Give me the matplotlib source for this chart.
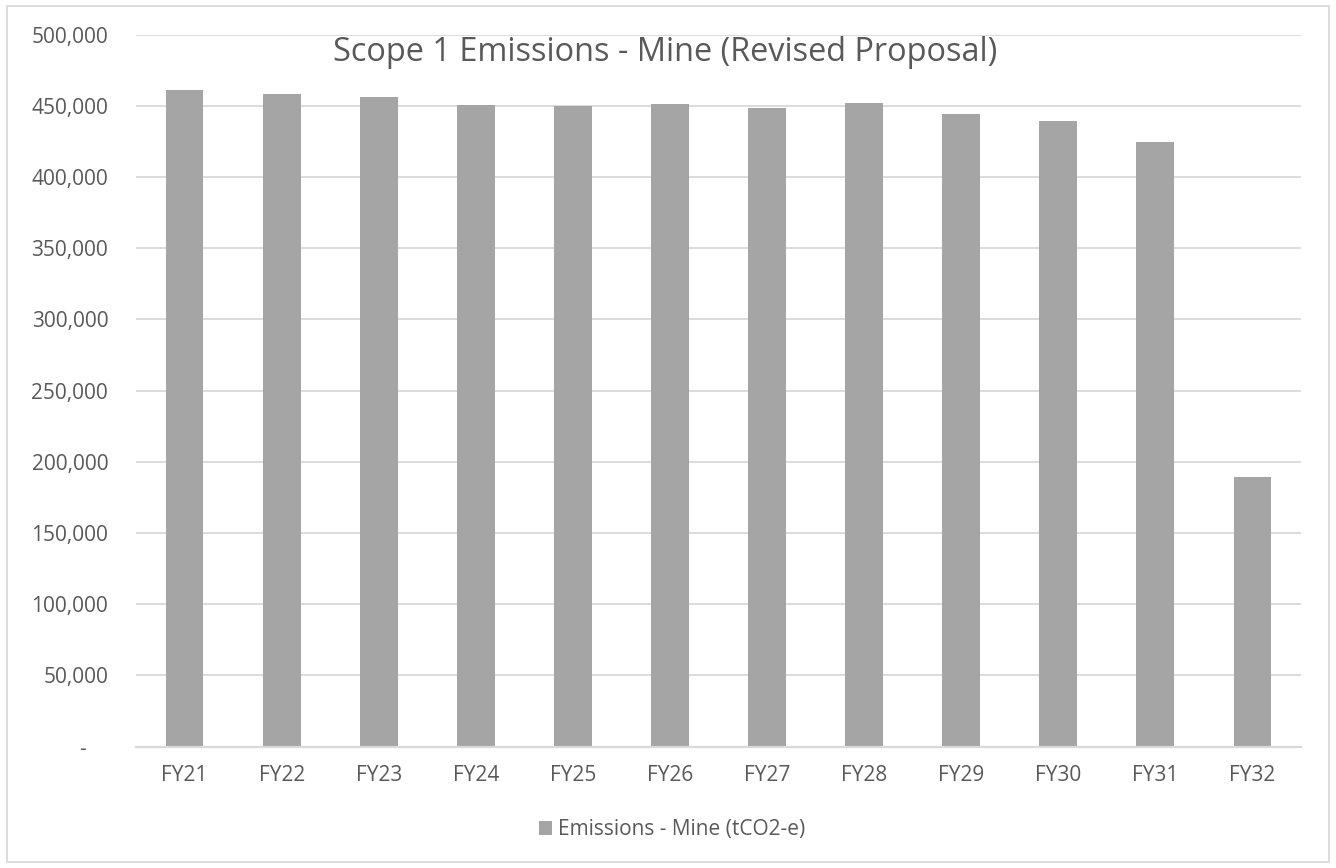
import matplotlib
matplotlib.use("Agg")
import matplotlib.pyplot as plt
from matplotlib.patches import Rectangle
from matplotlib.ticker import FuncFormatter, MultipleLocator

years = ['FY21', 'FY22', 'FY23', 'FY24', 'FY25', 'FY26',
         'FY27', 'FY28', 'FY29', 'FY30', 'FY31', 'FY32']
emissions = [461200, 458400, 456000, 450400, 449900, 451300,
             448500, 452000, 444100, 439600, 424700, 189400]

plt.rcParams['font.family'] = ['Open Sans', 'DejaVu Sans']
text_col = '#595959'
grid_col = '#D9D9D9'
bar_col = '#A5A5A5'

fig = plt.figure(figsize=(13.36, 8.68), dpi=100)
ax = fig.add_axes([0.1018, 0.1398, 0.872, 0.8202])

x = range(len(years))
ax.bar(x, emissions, width=0.39, color=bar_col, zorder=3,
       label='Emissions - Mine (tCO2-e)')

ax.set_xlim(-0.5, len(years) - 0.5)
ax.set_ylim(0, 500000)
ax.yaxis.set_major_locator(MultipleLocator(50000))

def acct(v, pos):
    if v == 0:
        return '-    '
    return f'{v:,.0f}'

ax.yaxis.set_major_formatter(FuncFormatter(acct))
ax.set_xticks(list(x))
ax.set_xticklabels(years)

ax.grid(axis='y', color=grid_col, linewidth=1.3, zorder=0)
ax.tick_params(axis='both', length=0, labelsize=15, labelcolor=text_col)
ax.tick_params(axis='y', pad=20)
ax.tick_params(axis='x', pad=13)
for side in ['left', 'right', 'top']:
    ax.spines[side].set_visible(False)
ax.spines['bottom'].set_color(grid_col)
ax.spines['bottom'].set_linewidth(1.6)
ax.spines['bottom'].set_zorder(4)

fig.text(0.498, 0.940, 'Scope 1 Emissions - Mine (Revised Proposal)',
         ha='center', va='center', fontsize=23.4, color=text_col)

# legend sits centred on the whole chart, not the plot area
handles, labels = ax.get_legend_handles_labels()
fig.legend(handles, labels, loc='center', bbox_to_anchor=(0.503, 0.044),
           frameon=False, fontsize=15, labelcolor=text_col,
           handlelength=0.6, handleheight=0.6, handletextpad=0.3)

# thin border around the whole chart
fig.patches.append(Rectangle((0.0055, 0.007), 0.989, 0.986,
                             transform=fig.transFigure, fill=False,
                             edgecolor=grid_col, linewidth=1.3))

fig.savefig('out.png', dpi=100)
